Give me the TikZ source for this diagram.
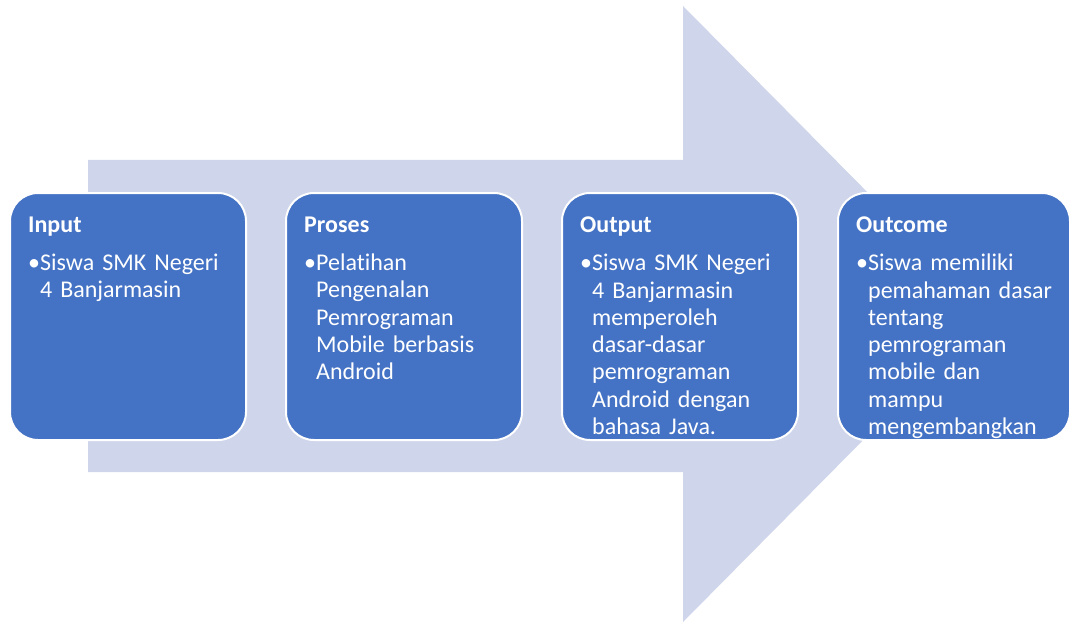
\documentclass[tikz,border=0pt]{standalone}
\usepackage{fontspec}
\setmainfont{Carlito}[Ligatures=NoCommon]
\usetikzlibrary{positioning}
\definecolor{kotakbiru}{HTML}{4472C4}
\definecolor{panahungu}{HTML}{CFD5EA}
\newcommand\butir[1]{\noindent•\begin{tabular}[t]{@{}l@{}}#1\end{tabular}}

\begin{document}
\begin{tikzpicture}[
  x=1pt, y=-1pt,
  node distance=40pt,
  kotak/.style={
    draw=white, line width=2pt, rounded corners=28pt, fill=kotakbiru,
    minimum width=236pt, minimum height=247pt, outer sep=0pt, inner sep=0pt,
  },
  isi/.style={
    inner sep=0pt, text width=212pt, text=white,
    font=\fontsize{24}{27.3}\selectfont,
  },
  panah/.style={fill=panahungu},
]
\useasboundingbox (0,0) rectangle (1071,623);

% big arrow behind the boxes
\fill[panah] (88,160) -- (683,160) -- (683,6) -- (988,314) -- (683,622)
  -- (683,472) -- (88,472) -- cycle;

\node[kotak, anchor=north west] (input) at (10,193) {};
\node[kotak, right=of input] (proses) {};
\node[kotak, right=of proses] (output) {};
\node[kotak, right=of output, minimum width=232pt] (outcome) {};

\node[isi, below right=23.5pt and 18pt of input.north west] (input-t)
  {\textbf{Input}\par\vspace{11pt}
   \butir{Siswa SMK Negeri\\4 Banjarmasin}};
\node[isi, below right=23.5pt and 18pt of proses.north west] (proses-t)
  {\textbf{Proses}\par\vspace{11pt}
   \butir{Pelatihan\\Pengenalan\\Pemrograman\\Mobile berbasis\\Android}};
\node[isi, below right=23.5pt and 18pt of output.north west] (output-t)
  {\textbf{Output}\par\vspace{11pt}
   \butir{Siswa SMK Negeri\\4 Banjarmasin\\memperoleh\\dasar-dasar\\pemrograman\\Android dengan\\bahasa Java.}};
\node[isi, below right=23.5pt and 18pt of outcome.north west] (outcome-t)
  {\textbf{Outcome}\par\vspace{11pt}
   \butir{Siswa memiliki\\pemahaman dasar\\tentang\\pemrograman\\mobile dan\\mampu\\mengembangkan}};

\end{tikzpicture}
\end{document}
